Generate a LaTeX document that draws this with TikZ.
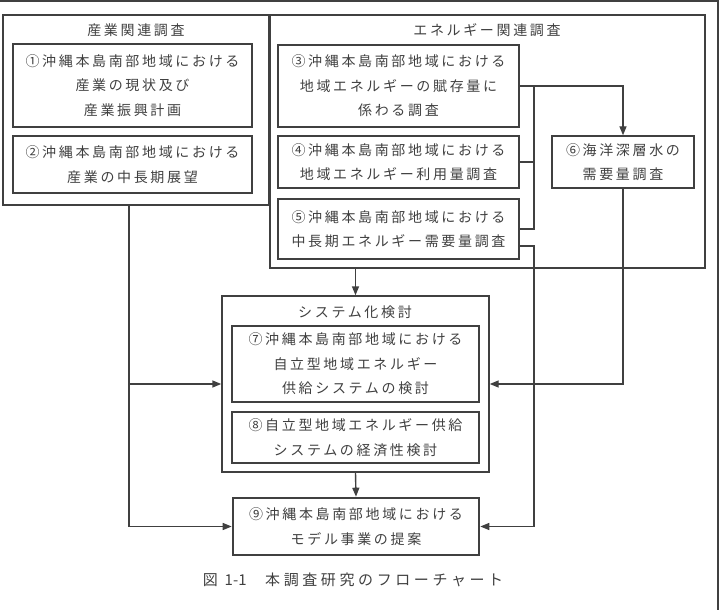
\documentclass[tikz,border=0pt]{standalone}
\usepackage{fontspec}
\newfontfamily\jpfont[LetterSpace=19]{Noto Sans CJK JP}
\usetikzlibrary{arrows.meta}

\begin{document}
\begin{tikzpicture}
  [x=1pt,y=-1pt,color=black!75,
   grp/.style={draw,line width=1.4pt,inner sep=0pt},
   box/.style={draw,line width=1.4pt,inner sep=0pt,align=center,
     font=\jpfont\fontsize{14}{24.5}\selectfont},
   heading/.style={font=\jpfont\fontsize{14}{16}\selectfont},
   arr/.style={-{Triangle[length=9pt,width=7pt]}}]
  \useasboundingbox (0,0) rectangle (721,610);
  \draw[line width=1.4pt] (0,1) -- (718,1) -- (718,610);

  % groups
  \node[grp,minimum width=266pt,minimum height=190pt] (ind) at (136,110) {};
  \node[grp,minimum width=435pt,minimum height=253pt] (ene) at (487.5,141.5) {};
  \node[grp,minimum width=267pt,minimum height=176pt] (sys) at (355.5,384) {};
  \node[heading] (indt) at (136,30) {産業関連調査};
  \node[heading] (enet) at (487,30) {エネルギー関連調査};
  \node[heading] (syst) at (355,312) {システム化検討};

  % studies
  \node[box,minimum width=239pt,minimum height=83pt] (b1) at (132.5,85.5)
    {①沖縄本島南部地域における\\産業の現状及び\\産業振興計画};
  \node[box,minimum width=239pt,minimum height=57pt] (b2) at (132.5,164.5)
    {②沖縄本島南部地域における\\産業の中長期展望};
  \node[box,minimum width=241pt,minimum height=82pt] (b3) at (398.5,86)
    {③沖縄本島南部地域における\\地域エネルギーの賦存量に\\係わる調査};
  \node[box,minimum width=241pt,minimum height=52pt] (b4) at (398.5,162)
    {④沖縄本島南部地域における\\地域エネルギー利用量調査};
  \node[box,minimum width=241pt,minimum height=60pt] (b5) at (398.5,229)
    {⑤沖縄本島南部地域における\\中長期エネルギー需要量調査};
  \node[box,minimum width=142pt,minimum height=52pt] (b6) at (623,162)
    {⑥海洋深層水の\\需要量調査};
  \node[box,minimum width=247pt,minimum height=76pt] (b7) at (355.5,364)
    {⑦沖縄本島南部地域における\\自立型地域エネルギー\\供給システムの検討};
  \node[box,minimum width=247pt,minimum height=51pt] (b8) at (355.5,437.5)
    {⑧自立型地域エネルギー供給\\システムの経済性検討};
  \node[box,line width=2.6pt,minimum width=246pt,minimum height=57pt] (b9) at (356,526.5)
    {⑨沖縄本島南部地域における\\モデル事業の提案};

  \node[font=\jpfont\fontsize{15}{17}\selectfont\addfontfeature{LetterSpace=24}] (cap) at (353,580)
    {図 {\addfontfeature{LetterSpace=0}1-1}　本調査研究のフローチャート};

  % connectors
  \coordinate (bus) at (534,86);
  \coordinate (lft) at (129,205);
  \draw[line width=1.4pt] (b4.east) -- (b4.east -| bus);
  \draw[line width=1.4pt] (b5.east) -| (bus);
  \draw[line width=1.4pt,arr] (b3.east) -| (b6.north);
  \draw[line width=1.4pt,arr] ([yshift=-17pt]b5.east) -| (b9.east -| bus) -- (b9.east);
  \draw[line width=1.4pt,arr] (b6.south) |- (sys.east);
  \draw[line width=1.4pt,arr] (lft) |- (b9.west);
  \draw[line width=1.4pt,arr] (sys.west -| lft) -- (sys.west);
  \draw[line width=1.4pt,arr] (ene.south -| sys.north) -- (sys.north);
  \draw[line width=1.4pt,arr] (sys.south) -- (b9.north);
\end{tikzpicture}
\end{document}
